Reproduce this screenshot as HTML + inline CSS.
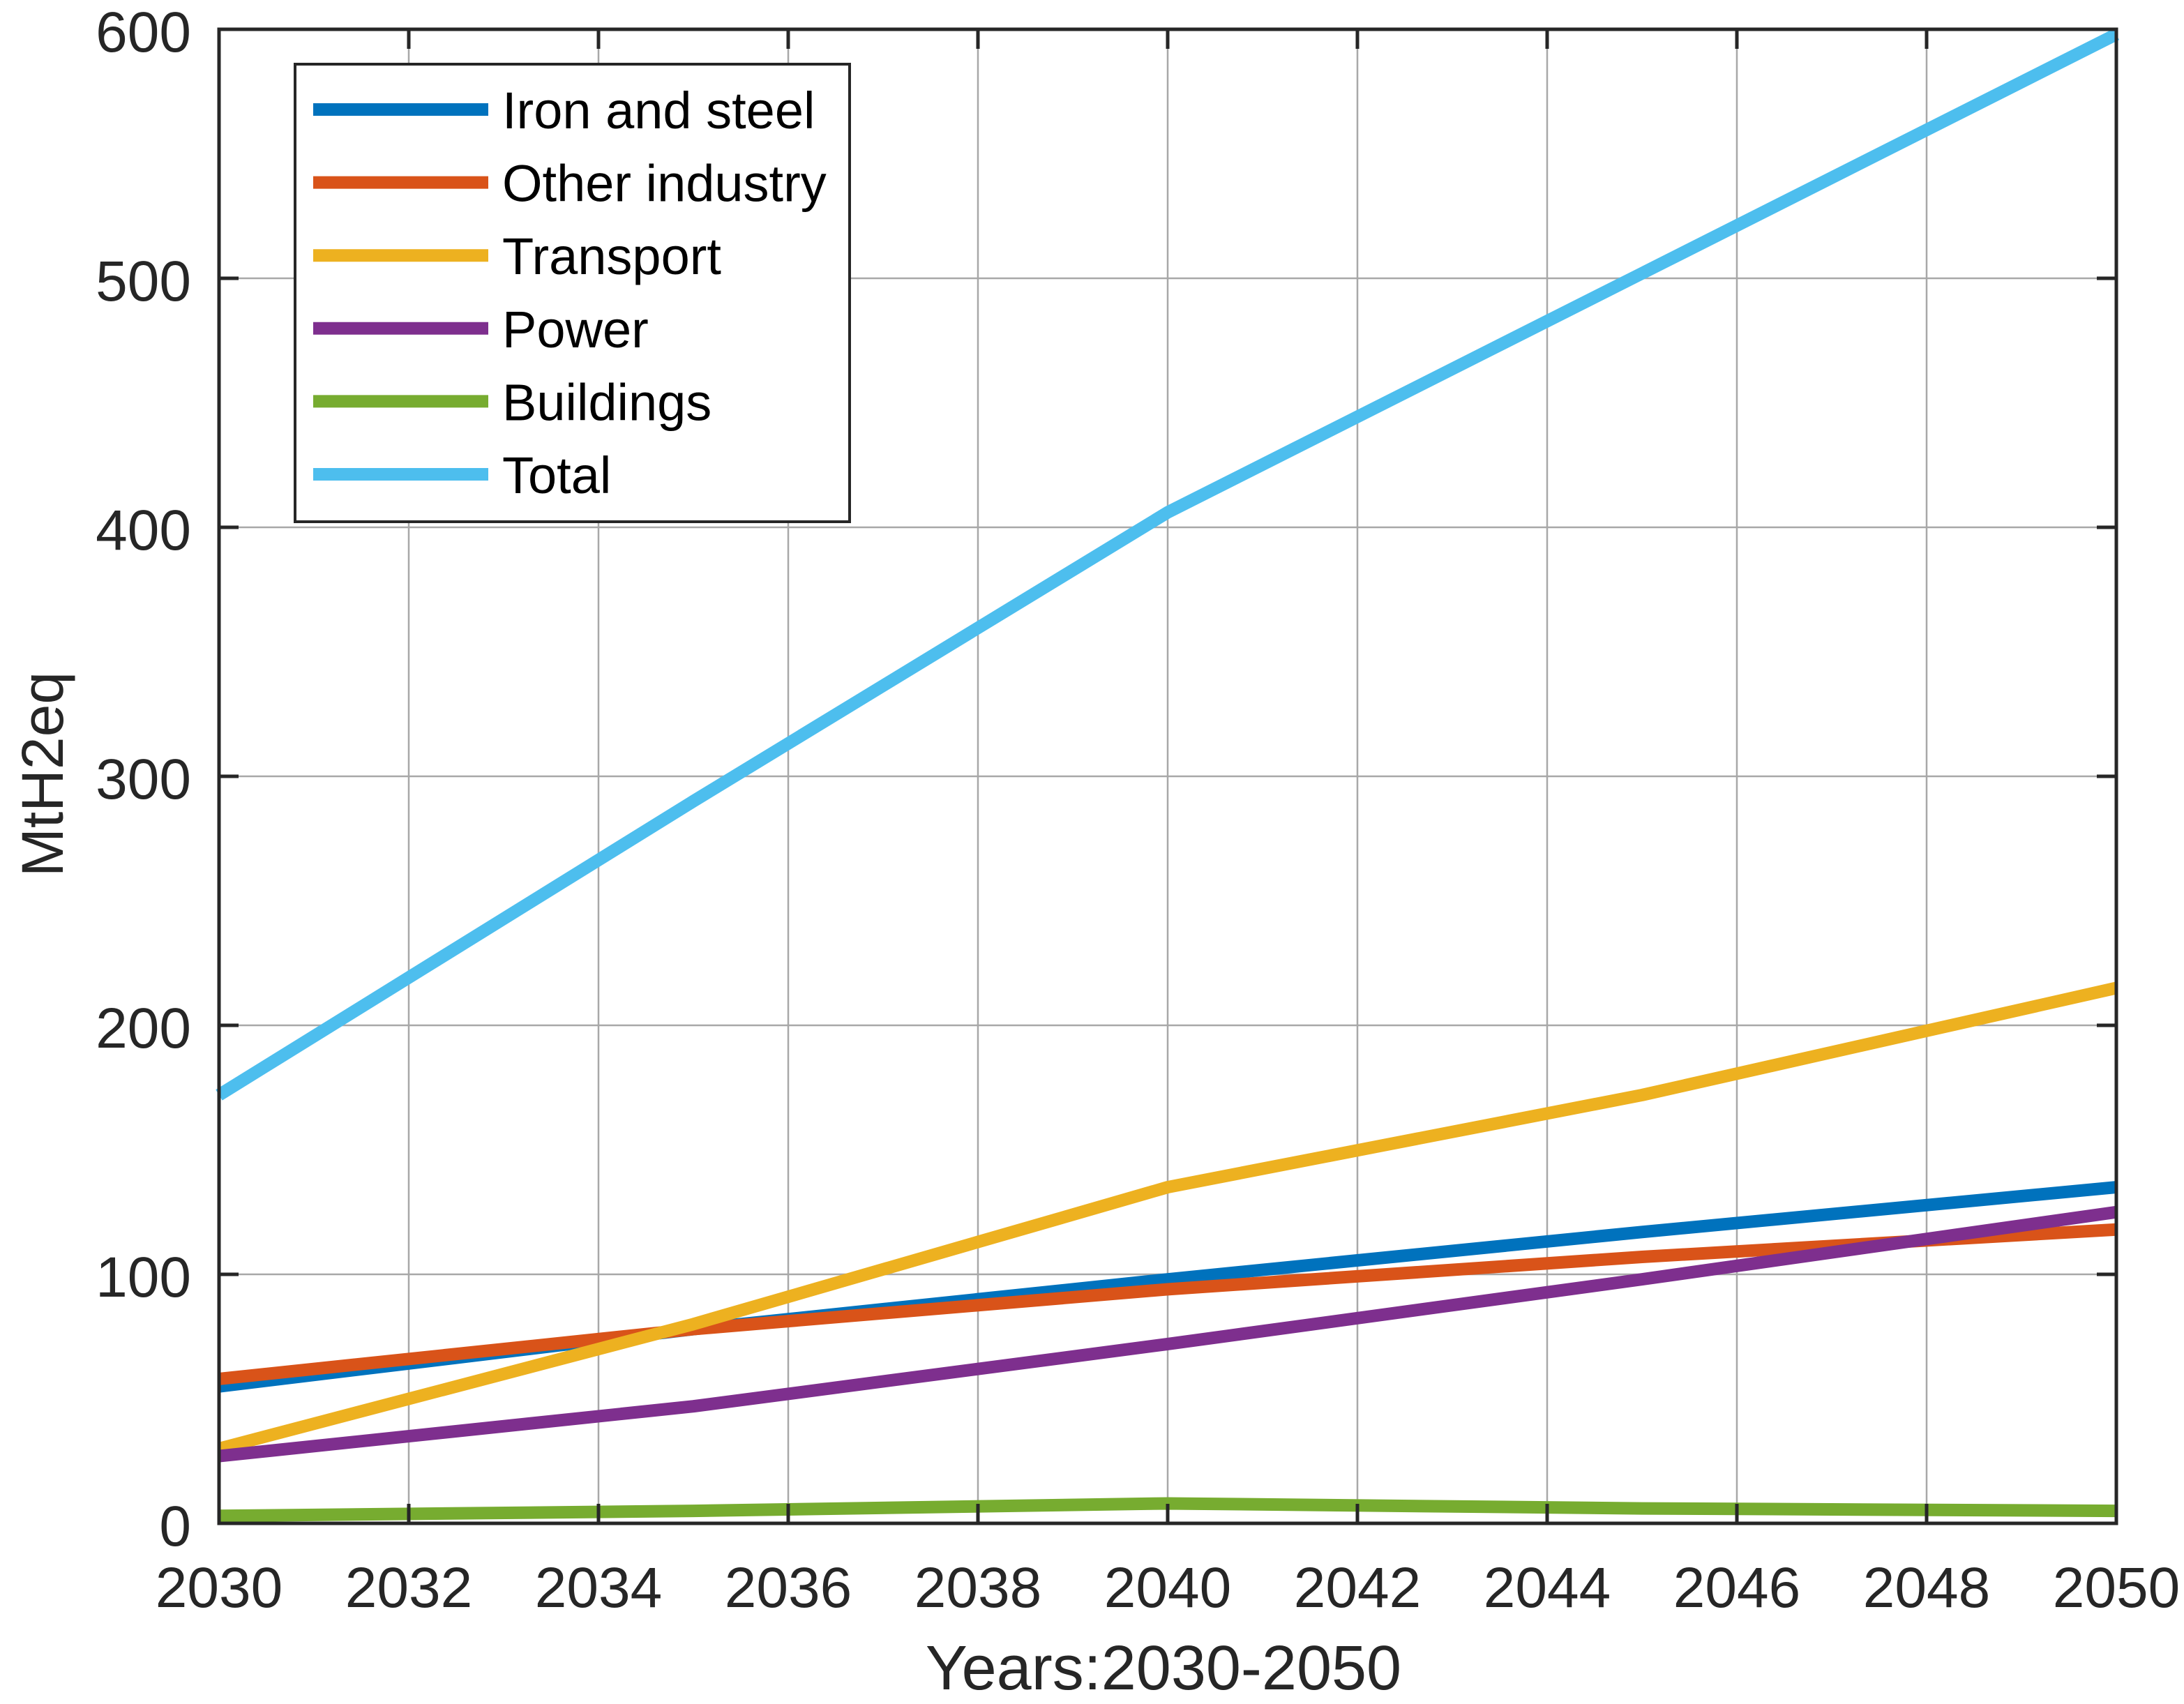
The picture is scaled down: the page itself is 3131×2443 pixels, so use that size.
<!DOCTYPE html>
<html><head><meta charset="utf-8"><style>
html,body{margin:0;padding:0;background:#fff;}
svg{display:block;font-family:"Liberation Sans",Arial,sans-serif;}
</style></head><body>
<svg id="chart" width="3131" height="2443" viewBox="0 0 3131 2443">
<g id="grid"></g>
<g id="series"></g>
<g id="axes"></g>
<text x="1668" y="2422" font-size="90" text-anchor="middle" fill="#262626">Years:2030-2050</text>
<text transform="translate(90,1110) rotate(-90)" font-size="84" text-anchor="middle" fill="#262626">MtH2eq</text>
<g id="legend"></g>
</svg>
<script>
const years = [2030, 2035, 2040, 2045, 2050];
const seriesNames = ["Iron and steel","Other industry","Transport","Power","Buildings","Total"];
const ironSteel = [55, 78, 98, 117, 135];
const otherIndustry = [58, 78, 94, 107, 118];
const transport = [30, 80, 135, 172, 215];
const power = [27, 47, 72, 98, 125];
const buildings = [3, 5, 8, 6, 5];
const total = [172, 290, 406, 502, 598];
const xTicks = [2030,2032,2034,2036,2038,2040,2042,2044,2046,2048,2050];
const yTicks = [0,100,200,300,400,500,600];

const L=314,R=3034,T=42,B=2184;
const xs=v=>L+(v-2030)/20*(R-L);
const ys=v=>B-v/600*(B-T);
const NS="http://www.w3.org/2000/svg";
function mk(tag,attrs,parent){const e=document.createElementNS(NS,tag);for(const k in attrs)e.setAttribute(k,attrs[k]);parent.appendChild(e);return e;}
const grid=document.getElementById('grid'),axes=document.getElementById('axes'),ser=document.getElementById('series'),leg=document.getElementById('legend');

xTicks.forEach(t=>{
  const g=mk('line',{x1:xs(t),x2:xs(t),y1:T,y2:B,stroke:'#a8a8a8','stroke-width':2.5},grid);
  
  
  const tk=mk('line',{x1:xs(t),x2:xs(t),y1:B,y2:B-28,stroke:'#262626','stroke-width':5},axes);
  
  
  const tk2=mk('line',{x1:xs(t),x2:xs(t),y1:T,y2:T+28,stroke:'#262626','stroke-width':5},axes);
  
  
  const lb=mk('text',{x:xs(t),y:2304,'font-size':82,'text-anchor':'middle',fill:'#262626'},axes);
  lb.textContent=t;
  
  
});
yTicks.forEach(t=>{
  const g=mk('line',{x1:L,x2:R,y1:ys(t),y2:ys(t),stroke:'#a8a8a8','stroke-width':2.5},grid);
  
  
  const tk=mk('line',{x1:L,x2:L+28,y1:ys(t),y2:ys(t),stroke:'#262626','stroke-width':5},axes);
  
  
  const tk2=mk('line',{x1:R,x2:R-28,y1:ys(t),y2:ys(t),stroke:'#262626','stroke-width':5},axes);
  
  
  const lb=mk('text',{x:274,y:ys(t)+32,'font-size':82,'text-anchor':'end',fill:'#262626'},axes);
  lb.textContent=t;
  
  
});
const box=mk('rect',{x:L,y:T,width:R-L,height:B-T,fill:'none',stroke:'#262626','stroke-width':5},axes);



const data=[ironSteel,otherIndustry,transport,power,buildings,total];
const colors=["#0072BD","#D95319","#EDB120","#7E2F8E","#77AC30","#4DBEEE"];
data.forEach((d,i)=>{
  const p=mk('polyline',{points:d.map((v,j)=>xs(years[j])+','+ys(v)).join(' '),fill:'none',stroke:colors[i],'stroke-width':18,'stroke-linejoin':'round'},ser);
  
  
});

const lb=mk('rect',{x:423,y:92,width:795,height:656,fill:'#fff',stroke:'#262626','stroke-width':4},leg);


seriesNames.forEach((n,i)=>{
  const y=157+i*104.6;
  const l=mk('line',{x1:449,x2:700,y1:y,y2:y,stroke:colors[i],'stroke-width':18},leg);
  
  
  const t=mk('text',{x:720,y:y+27,'font-size':74,fill:'#000'},leg);
  t.textContent=n;
  
  
});
</script>
</body></html>
